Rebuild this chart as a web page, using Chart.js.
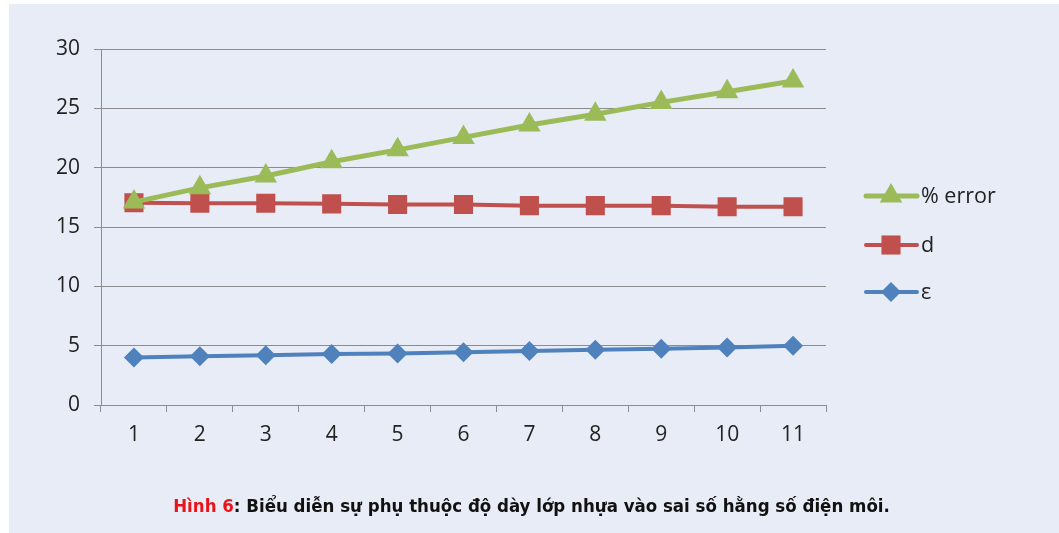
<!DOCTYPE html>
<html>
<head>
<meta charset="utf-8">
<script src="https://cdn.jsdelivr.net/npm/chart.js@4"></script>
<style>
  body { margin: 0; background: #fff; }
  #wrap { position: relative; width: 1059px; height: 533px; overflow: hidden; }
  #bg { position: absolute; left: 9px; top: 4px; right: 0; bottom: 0; background: #e8ecf6; }
  #chart { position: absolute; left: 0; top: 0; }
  #caption {
    position: absolute; left: 0; width: 1063px; top: 495px; text-align: center;
    font-family: "DejaVu Sans Condensed", "DejaVu Sans", sans-serif; font-weight: bold;
    font-size: 18.5px; color: #111;
  }
  #caption span { color: #e8141c; }
</style>
</head>
<body>
<div id="wrap">
  <div id="bg"></div>
  <canvas id="chart" width="1059" height="533"></canvas>
  <div id="caption"><span>Hình 6</span>: Biểu diễn sự phụ thuộc độ dày lớp nhựa vào sai số hằng số điện môi.</div>
</div>
<script>
const categories = ["1", "2", "3", "4", "5", "6", "7", "8", "9", "10", "11"];
const errorValues = [17.1, 18.3, 19.3, 20.5, 21.5, 22.55, 23.6, 24.5, 25.5, 26.4, 27.3];
const dValues = [17.05, 17.0, 17.0, 16.95, 16.9, 16.9, 16.8, 16.8, 16.8, 16.7, 16.7];
const epsValues = [4.0, 4.1, 4.2, 4.3, 4.35, 4.45, 4.55, 4.65, 4.75, 4.85, 5.0];
const yTicks = [0, 5, 10, 15, 20, 25, 30];

const tickFont = { family: "Open Sans", size: 21 };

// legend on the right, line + marker like the office chart
const sideLegend = {
  id: "sideLegend",
  afterDraw(chart) {
    const ctx = chart.ctx;
    const rows = [196, 245, 292];
    ctx.save();
    chart.data.datasets.forEach((ds, i) => {
      const y = rows[i];
      ctx.strokeStyle = ds.borderColor;
      ctx.lineWidth = ds.borderWidth;
      ctx.lineCap = "round";
      ctx.beginPath();
      ctx.moveTo(866, y);
      ctx.lineTo(917, y);
      ctx.stroke();
      ctx.fillStyle = ds.backgroundColor;
      Chart.helpers.drawPoint(ctx, { pointStyle: ds.pointStyle, radius: ds.pointRadius, borderWidth: 0 }, 891, y);
      ctx.fillStyle = "#222";
      ctx.font = "21.5px 'Open Sans'";
      ctx.textBaseline = "middle";
      ctx.fillText(ds.label, 921, y + 1);
    });
    ctx.restore();
  },
};

new Chart(document.getElementById("chart"), {
  type: "line",
  data: {
    labels: categories,
    datasets: [
      {
        label: "% error",
        data: errorValues,
        borderColor: "#9bbb59",
        backgroundColor: "#9bbb59",
        borderWidth: 5,
        pointStyle: "triangle",
        pointRadius: 13,
        pointBorderWidth: 0,
      },
      {
        label: "d",
        data: dValues,
        borderColor: "#c0504d",
        backgroundColor: "#c0504d",
        borderWidth: 4,
        pointStyle: "rect",
        pointRadius: 13.5,
        pointBorderWidth: 0,
      },
      {
        label: "ε",
        data: epsValues,
        borderColor: "#4f81bd",
        backgroundColor: "#4f81bd",
        borderWidth: 4,
        pointStyle: "rectRot",
        pointRadius: 10,
        pointBorderWidth: 0,
      },
    ],
  },
  options: {
    responsive: false,
    animation: false,
    layout: { padding: { top: 49, right: 233, left: 0, bottom: 0 } },
    plugins: { legend: { display: false }, tooltip: { enabled: false } },
    scales: {
      x: {
        offset: true,
        grid: { offset: true, drawOnChartArea: false, drawTicks: true, tickLength: 7, color: "#8c8c8c" },
        border: { color: "#8c8c8c", width: 1 },
        ticks: { font: tickFont, color: "#222", padding: 10, maxRotation: 0 },
        afterFit: (scale) => { scale.height = 128; },
      },
      y: {
        min: 0,
        max: 30,
        afterBuildTicks: (scale) => { scale.ticks = yTicks.map((v) => ({ value: v })); },
        grid: { color: "#8c8c8c", tickLength: 7 },
        border: { color: "#8c8c8c", width: 1 },
        ticks: { font: tickFont, color: "#222", padding: 14 },
        afterFit: (scale) => { scale.width = 101; },
      },
    },
  },
  plugins: [sideLegend],
});
</script>
</body>
</html>
